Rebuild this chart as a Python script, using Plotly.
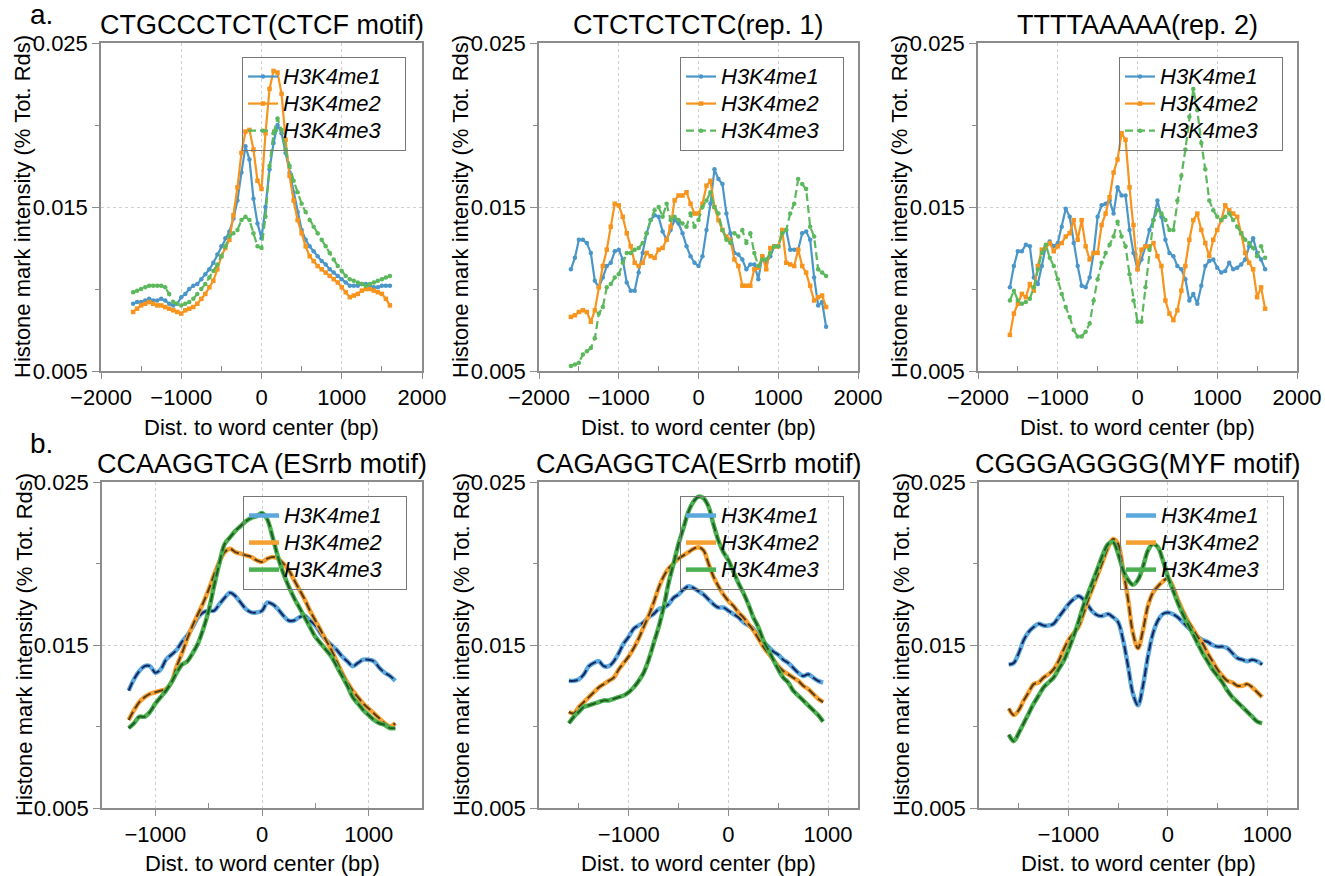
import plotly.graph_objects as go

# ---------------- data ----------------
X_TOP = list(range(-1600, 1601, 50))      # 65 points
X_B1 = list(range(-1250, 1251, 50))       # 51 points
X_B23 = list(range(-1600, 951, 50))       # 52 points

SERIES = ["H3K4me1", "H3K4me2", "H3K4me3"]

TITLES = ["CTGCCCTCT(CTCF motif)", "CTCTCTCTC(rep. 1)", "TTTTAAAAA(rep. 2)",
          "CCAAGGTCA (ESrrb motif)", "CAGAGGTCA(ESrrb motif)", "CGGGAGGGG(MYF motif)"]

# panel a.1  CTGCCCTCT
p1_me1 = [0.0091, 0.0092, 0.0092, 0.0093, 0.0094, 0.0093, 0.0093, 0.0094, 0.0093, 0.0091,
          0.0090, 0.0091, 0.0095, 0.0097, 0.0100, 0.0102, 0.0103, 0.0106, 0.0109, 0.0112,
          0.0116, 0.0121, 0.0126, 0.0131, 0.0135, 0.0143, 0.0154, 0.0171, 0.0187, 0.0179,
          0.0155, 0.0140, 0.0131, 0.0150, 0.0173, 0.0189, 0.0200, 0.0195, 0.0183, 0.0171,
          0.0159, 0.0147, 0.0136, 0.0130, 0.0126, 0.0123, 0.0120, 0.0117, 0.0115, 0.0112,
          0.0110, 0.0108, 0.0106, 0.0104, 0.0102, 0.0102, 0.0102, 0.0103, 0.0103, 0.0102,
          0.0101, 0.0101, 0.0102, 0.0102, 0.0102]
p1_me2 = [0.0086, 0.0088, 0.0090, 0.0091, 0.0092, 0.0091, 0.0090, 0.0090, 0.0089, 0.0088,
          0.0087, 0.0086, 0.0085, 0.0087, 0.0088, 0.0089, 0.0091, 0.0094, 0.0097, 0.0101,
          0.0105, 0.0112, 0.0120, 0.0125, 0.0130, 0.0145, 0.0162, 0.0183, 0.0196, 0.0197,
          0.0185, 0.0166, 0.0161, 0.0195, 0.0222, 0.0233, 0.0232, 0.0219, 0.0191, 0.0169,
          0.0154, 0.0142, 0.0134, 0.0126, 0.0120, 0.0117, 0.0114, 0.0112, 0.0110, 0.0108,
          0.0106, 0.0104, 0.0101, 0.0098, 0.0095, 0.0096, 0.0097, 0.0099, 0.0100, 0.0100,
          0.0099, 0.0098, 0.0097, 0.0094, 0.0090]
p1_me3 = [0.0098, 0.0099, 0.0100, 0.0101, 0.0102, 0.0102, 0.0102, 0.0102, 0.0101, 0.0097,
          0.0092, 0.0091, 0.0090, 0.0091, 0.0092, 0.0094, 0.0097, 0.0100, 0.0103, 0.0107,
          0.0111, 0.0115, 0.0120, 0.0126, 0.0132, 0.0134, 0.0136, 0.0142, 0.0144, 0.0142,
          0.0134, 0.0126, 0.0125, 0.0144, 0.0175, 0.0195, 0.0204, 0.0197, 0.0185, 0.0175,
          0.0166, 0.0159, 0.0152, 0.0147, 0.0142, 0.0138, 0.0134, 0.0130, 0.0126, 0.0122,
          0.0118, 0.0114, 0.0111, 0.0108, 0.0106, 0.0105, 0.0104, 0.0103, 0.0102, 0.0103,
          0.0104, 0.0105, 0.0106, 0.0107, 0.0108]

# panel a.2  CTCTCTCTC
p2_me1 = [0.0112, 0.0119, 0.0130, 0.0130, 0.0128, 0.0122, 0.0105, 0.0101, 0.0107, 0.0114,
          0.0116, 0.0123, 0.0124, 0.0118, 0.0104, 0.0099, 0.0099, 0.0110, 0.0122, 0.0134,
          0.0142, 0.0145, 0.0144, 0.0135, 0.0130, 0.0136, 0.0142, 0.0140, 0.0134, 0.0126,
          0.0120, 0.0116, 0.0114, 0.0120, 0.0136, 0.0152, 0.0173, 0.0167, 0.0164, 0.0146,
          0.0134, 0.0122, 0.0121, 0.0118, 0.0112, 0.0115, 0.0115, 0.0106, 0.0120, 0.0116,
          0.0120, 0.0126, 0.0126, 0.0134, 0.0136, 0.0124, 0.0124, 0.0124, 0.0134, 0.0135,
          0.0130, 0.0107, 0.0090, 0.0092, 0.0077]
p2_me2 = [0.0083, 0.0084, 0.0086, 0.0087, 0.0086, 0.0080, 0.0087, 0.0101, 0.0114, 0.0124,
          0.0138, 0.0152, 0.0151, 0.0144, 0.0134, 0.0126, 0.0116, 0.0114, 0.0116, 0.0122,
          0.0120, 0.0119, 0.0124, 0.0125, 0.0130, 0.0138, 0.0154, 0.0157, 0.0157, 0.0159,
          0.0152, 0.0146, 0.0146, 0.0152, 0.0163, 0.0166, 0.0150, 0.0142, 0.0136, 0.0132,
          0.0130, 0.0118, 0.0114, 0.0102, 0.0102, 0.0102, 0.0112, 0.0113, 0.0120, 0.0112,
          0.0125, 0.0126, 0.0126, 0.0136, 0.0116, 0.0115, 0.0114, 0.0124, 0.0114, 0.0110,
          0.0102, 0.0093, 0.0095, 0.0096, 0.0089]
p2_me3 = [0.0053, 0.0054, 0.0055, 0.0060, 0.0062, 0.0064, 0.0070, 0.0085, 0.0089, 0.0101,
          0.0103, 0.0107, 0.0109, 0.0116, 0.0122, 0.0122, 0.0124, 0.0125, 0.0128, 0.0134,
          0.0142, 0.0148, 0.0150, 0.0144, 0.0152, 0.0142, 0.0144, 0.0142, 0.0140, 0.0138,
          0.0146, 0.0138, 0.0142, 0.0150, 0.0154, 0.0159, 0.0150, 0.0146, 0.0136, 0.0130,
          0.0128, 0.0134, 0.0132, 0.0136, 0.0128, 0.0134, 0.0122, 0.0114, 0.0118, 0.0118,
          0.0122, 0.0126, 0.0126, 0.0134, 0.0136, 0.0146, 0.0152, 0.0167, 0.0164, 0.0161,
          0.0138, 0.0132, 0.0112, 0.0110, 0.0108]

# panel a.3  TTTTAAAAA
p3_me1 = [0.0101, 0.0114, 0.0123, 0.0123, 0.0127, 0.0126, 0.0107, 0.0103, 0.0114, 0.0126,
          0.0129, 0.0126, 0.0128, 0.0138, 0.0149, 0.0144, 0.0128, 0.0114, 0.0102, 0.0101,
          0.0107, 0.0122, 0.0144, 0.0151, 0.0152, 0.0154, 0.0146, 0.0162, 0.0157, 0.0157,
          0.0136, 0.0122, 0.0112, 0.0118, 0.0126, 0.0136, 0.0142, 0.0154, 0.0144, 0.0130,
          0.0122, 0.0120, 0.0114, 0.0112, 0.0106, 0.0093, 0.0097, 0.0091, 0.0102, 0.0114,
          0.0117, 0.0118, 0.0113, 0.0110, 0.0111, 0.0116, 0.0112, 0.0113, 0.0115, 0.0118,
          0.0126, 0.0131, 0.0122, 0.0118, 0.0112]
p3_me2 = [0.0072, 0.0085, 0.0091, 0.0097, 0.0095, 0.0103, 0.0099, 0.0114, 0.0124, 0.0125,
          0.0128, 0.0123, 0.0126, 0.0128, 0.0132, 0.0134, 0.0142, 0.0130, 0.0142, 0.0126,
          0.0118, 0.0122, 0.0122, 0.0139, 0.0146, 0.0156, 0.0171, 0.0179, 0.0195, 0.0191,
          0.0162, 0.0139, 0.0112, 0.0124, 0.0126, 0.0126, 0.0128, 0.0120, 0.0114, 0.0093,
          0.0085, 0.0081, 0.0087, 0.0099, 0.0114, 0.0130, 0.0142, 0.0146, 0.0136, 0.0128,
          0.0120, 0.0130, 0.0136, 0.0142, 0.0151, 0.0148, 0.0146, 0.0144, 0.0134, 0.0122,
          0.0116, 0.0112, 0.0095, 0.0101, 0.0088]
p3_me3 = [0.0093, 0.0099, 0.0093, 0.0091, 0.0092, 0.0094, 0.0101, 0.0112, 0.0122, 0.0127,
          0.0119, 0.0114, 0.0106, 0.0097, 0.0089, 0.0083, 0.0075, 0.0071, 0.0071, 0.0074,
          0.0079, 0.0093, 0.0106, 0.0116, 0.0122, 0.0127, 0.0132, 0.0141, 0.0132, 0.0126,
          0.0109, 0.0093, 0.0080, 0.0080, 0.0101, 0.0124, 0.0142, 0.0148, 0.0146, 0.0142,
          0.0136, 0.0136, 0.0154, 0.0169, 0.0185, 0.0205, 0.0222, 0.0209, 0.0189, 0.0173,
          0.0154, 0.0148, 0.0144, 0.0142, 0.0144, 0.0146, 0.0142, 0.0138, 0.0134, 0.0130,
          0.0128, 0.0125, 0.0120, 0.0126, 0.0119]

# panel b.1  CCAAGGTCA
p4_me1 = [0.0122, 0.0129, 0.0134, 0.0137, 0.0137, 0.0133, 0.0135, 0.0141, 0.0144, 0.0147,
          0.0152, 0.0156, 0.0161, 0.0167, 0.0170, 0.0171, 0.0171, 0.0175, 0.0179, 0.0182,
          0.0180, 0.0176, 0.0172, 0.0170, 0.0170, 0.0171, 0.0176, 0.0175, 0.0172, 0.0168,
          0.0165, 0.0165, 0.0167, 0.0168, 0.0165, 0.0162, 0.0157, 0.0153, 0.0150, 0.0147,
          0.0143, 0.0140, 0.0137, 0.0139, 0.0141, 0.0141, 0.0140, 0.0136, 0.0133, 0.0131,
          0.0128]
p4_me2 = [0.0104, 0.0110, 0.0115, 0.0118, 0.0120, 0.0121, 0.0122, 0.0123, 0.0127, 0.0137,
          0.0145, 0.0154, 0.0162, 0.0169, 0.0176, 0.0184, 0.0193, 0.0201, 0.0207, 0.0209,
          0.0207, 0.0206, 0.0205, 0.0204, 0.0202, 0.0201, 0.0203, 0.0204, 0.0203, 0.0200,
          0.0196, 0.0190, 0.0184, 0.0178, 0.0171, 0.0165, 0.0159, 0.0153, 0.0147, 0.0140,
          0.0133, 0.0127, 0.0122, 0.0118, 0.0114, 0.0111, 0.0108, 0.0105, 0.0102, 0.0100,
          0.0102]
p4_me3 = [0.0099, 0.0102, 0.0106, 0.0106, 0.0109, 0.0114, 0.0118, 0.0122, 0.0127, 0.0133,
          0.0138, 0.0140, 0.0145, 0.0151, 0.0160, 0.0171, 0.0186, 0.0200, 0.0212, 0.0216,
          0.0220, 0.0223, 0.0226, 0.0228, 0.0229, 0.0231, 0.0227, 0.0216, 0.0204, 0.0194,
          0.0186, 0.0179, 0.0173, 0.0167, 0.0161, 0.0155, 0.0151, 0.0147, 0.0143, 0.0137,
          0.0131, 0.0125, 0.0118, 0.0114, 0.0110, 0.0107, 0.0104, 0.0102, 0.0101, 0.0099,
          0.0099]

# panel b.2  CAGAGGTCA
p5_me1 = [0.0128, 0.0128, 0.0129, 0.0132, 0.0137, 0.0139, 0.0140, 0.0137, 0.0137, 0.0140,
          0.0145, 0.0151, 0.0155, 0.0160, 0.0162, 0.0164, 0.0167, 0.0169, 0.0172, 0.0173,
          0.0175, 0.0179, 0.0181, 0.0184, 0.0186, 0.0185, 0.0183, 0.0181, 0.0178, 0.0175,
          0.0173, 0.0173, 0.0171, 0.0169, 0.0167, 0.0164, 0.0162, 0.0160, 0.0155, 0.0152,
          0.0149, 0.0146, 0.0144, 0.0141, 0.0139, 0.0136, 0.0133, 0.0131, 0.0132, 0.0130,
          0.0128, 0.0127]
p5_me2 = [0.0109, 0.0108, 0.0112, 0.0115, 0.0118, 0.0121, 0.0124, 0.0126, 0.0128, 0.0130,
          0.0135, 0.0139, 0.0143, 0.0148, 0.0154, 0.0161, 0.0168, 0.0176, 0.0185, 0.0192,
          0.0197, 0.0200, 0.0203, 0.0205, 0.0207, 0.0209, 0.0210, 0.0208, 0.0200, 0.0192,
          0.0186, 0.0181, 0.0177, 0.0174, 0.0170, 0.0167, 0.0163, 0.0159, 0.0154, 0.0149,
          0.0145, 0.0141, 0.0137, 0.0134, 0.0132, 0.0130, 0.0128, 0.0125, 0.0123, 0.0120,
          0.0117, 0.0115]
p5_me3 = [0.0102, 0.0106, 0.0109, 0.0112, 0.0113, 0.0114, 0.0115, 0.0116, 0.0116, 0.0117,
          0.0118, 0.0119, 0.0121, 0.0124, 0.0128, 0.0133, 0.0141, 0.0151, 0.0161, 0.0173,
          0.0188, 0.0200, 0.0212, 0.0222, 0.0232, 0.0238, 0.0241, 0.0240, 0.0235, 0.0224,
          0.0214, 0.0207, 0.0202, 0.0195, 0.0188, 0.0182, 0.0175, 0.0167, 0.0161, 0.0153,
          0.0147, 0.0141, 0.0135, 0.0130, 0.0127, 0.0122, 0.0119, 0.0116, 0.0113, 0.0110,
          0.0107, 0.0103]

# panel b.3  CGGGAGGGG
p6_me1 = [0.0138, 0.0139, 0.0145, 0.0153, 0.0158, 0.0161, 0.0163, 0.0162, 0.0162, 0.0163,
          0.0167, 0.0171, 0.0175, 0.0178, 0.0180, 0.0178, 0.0174, 0.0170, 0.0168, 0.0168,
          0.0169, 0.0167, 0.0164, 0.0153, 0.0137, 0.0120, 0.0113, 0.0125, 0.0143, 0.0157,
          0.0165, 0.0169, 0.0170, 0.0169, 0.0167, 0.0164, 0.0161, 0.0158, 0.0155, 0.0153,
          0.0152, 0.0150, 0.0149, 0.0149, 0.0148, 0.0145, 0.0142, 0.0141, 0.0140, 0.0141,
          0.0140, 0.0138]
p6_me2 = [0.0111, 0.0107, 0.0110, 0.0116, 0.0121, 0.0126, 0.0127, 0.0130, 0.0132, 0.0135,
          0.0140, 0.0147, 0.0153, 0.0157, 0.0161, 0.0169, 0.0178, 0.0186, 0.0194, 0.0202,
          0.0210, 0.0215, 0.0212, 0.0196, 0.0178, 0.0157, 0.0148, 0.0159, 0.0174, 0.0182,
          0.0186, 0.0189, 0.0191, 0.0186, 0.0178, 0.0171, 0.0165, 0.0160, 0.0155, 0.0151,
          0.0145, 0.0140, 0.0135, 0.0131, 0.0128, 0.0127, 0.0125, 0.0125, 0.0126, 0.0124,
          0.0121, 0.0118]
p6_me3 = [0.0095, 0.0091, 0.0096, 0.0102, 0.0108, 0.0114, 0.0119, 0.0124, 0.0127, 0.0130,
          0.0135, 0.0140, 0.0147, 0.0155, 0.0164, 0.0174, 0.0182, 0.0190, 0.0198, 0.0206,
          0.0212, 0.0213, 0.0206, 0.0196, 0.0190, 0.0187, 0.0190, 0.0198, 0.0208, 0.0212,
          0.0210, 0.0202, 0.0192, 0.0184, 0.0176, 0.0169, 0.0163, 0.0157, 0.0151, 0.0145,
          0.0140, 0.0135, 0.0131, 0.0127, 0.0122, 0.0118, 0.0115, 0.0112, 0.0109, 0.0106,
          0.0103, 0.0102]

Y_TICKS = [0.005, 0.015, 0.025]
Y_TICKTEXT = ["0.005", "0.015", "0.025"]

# ---------------- styling ----------------
FONT = "Liberation Sans, Arial, Helvetica, sans-serif"
AX = "#8c8c8c"
GRID = "#cfcfcf"
TOP_COL = ["#4a96c8", "#f7941d", "#5cb85c"]
BOT_LIGHT = ["#5aa8dc", "#f5a030", "#4cb050"]
BOT_DARK = ["#15245c", "#5a3a12", "#1d5e22"]
TOP_SYM = ["circle", "square", "circle"]
TOP_DASH = ["solid", "solid", "8px,4px"]

W, H = 1325, 876
px = lambda v: v / W
py = lambda v: 1 - v / H


def legend_name(s):
    return '<span style="font-size:22px"><i>%s</i>&nbsp;&nbsp;&nbsp;</span>' % s


panels = [
    dict(x=X_TOP, ys=[p1_me1, p1_me2, p1_me3], xd=(101, 422), yd=(43, 371), xr=[-2000, 2000],
         xt=[-2000, -1000, 0, 1000, 2000], xm=[-1500, -500, 500, 1500], top=True),
    dict(x=X_TOP, ys=[p2_me1, p2_me2, p2_me3], xd=(539, 858), yd=(43, 371), xr=[-2000, 2000],
         xt=[-2000, -1000, 0, 1000, 2000], xm=[-1500, -500, 500, 1500], top=True),
    dict(x=X_TOP, ys=[p3_me1, p3_me2, p3_me3], xd=(978, 1297), yd=(43, 371), xr=[-2000, 2000],
         xt=[-2000, -1000, 0, 1000, 2000], xm=[-1500, -500, 500, 1500], top=True),
    dict(x=X_B1, ys=[p4_me1, p4_me2, p4_me3], xd=(102, 422), yd=(482, 808), xr=[-1500, 1500],
         xt=[-1000, 0, 1000], xm=[-500, 500], top=False),
    dict(x=X_B23, ys=[p5_me1, p5_me2, p5_me3], xd=(539, 858), yd=(482, 808), xr=[-1900, 1300],
         xt=[-1000, 0, 1000], xm=[-1500, -500, 500], top=False),
    dict(x=X_B23, ys=[p6_me1, p6_me2, p6_me3], xd=(979, 1297), yd=(482, 808), xr=[-1900, 1300],
         xt=[-1000, 0, 1000], xm=[-1500, -500, 500], top=False),
]

fig = go.Figure()
layout = dict(width=W, height=H, margin=dict(l=0, r=0, t=0, b=0, autoexpand=False),
              paper_bgcolor="white", plot_bgcolor="white",
              font=dict(family=FONT, color="black"), showlegend=True)
annotations = []

for k, p in enumerate(panels):
    n = "" if k == 0 else str(k + 1)
    xa, ya = "x" + n, "y" + n
    leg = "legend" + n
    for s in range(3):
        if p["top"]:
            fig.add_trace(go.Scatter(
                x=p["x"], y=p["ys"][s], xaxis=xa, yaxis=ya, legend=leg,
                name=legend_name(SERIES[s]), mode="lines+markers",
                line=dict(color=TOP_COL[s], width=2.2, dash=TOP_DASH[s]),
                marker=dict(symbol=TOP_SYM[s], size=4.5, color=TOP_COL[s])))
        else:
            fig.add_trace(go.Scatter(
                x=p["x"], y=p["ys"][s], xaxis=xa, yaxis=ya, legend=leg,
                name=legend_name(SERIES[s]), mode="lines", line_shape="spline",
                line=dict(color=BOT_LIGHT[s], width=4.5)))
            fig.add_trace(go.Scatter(
                x=p["x"], y=p["ys"][s], xaxis=xa, yaxis=ya, showlegend=False,
                mode="lines", line_shape="spline", hoverinfo="skip",
                line=dict(color=BOT_DARK[s], width=2, dash="9px,4px")))

    layout["xaxis" + n] = dict(
        domain=[px(p["xd"][0]), px(p["xd"][1])], range=p["xr"], anchor=ya, automargin=False,
        showline=True, mirror=True, linecolor=AX, linewidth=1.5,
        ticks="outside", ticklen=6, tickcolor=AX, tickwidth=1.2,
        tickvals=p["xt"], showgrid=True, gridcolor=GRID, griddash="dot", gridwidth=1,
        zeroline=False, tickfont=dict(size=22, family=FONT, color="black"),
        minor=dict(tickvals=p["xm"], ticks="inside", ticklen=5, tickcolor=AX, showgrid=False))
    layout["yaxis" + n] = dict(
        domain=[py(p["yd"][1]), py(p["yd"][0])], range=[0.005, 0.025], anchor=xa,
        automargin=False,
        showline=True, mirror=True, linecolor=AX, linewidth=1.5,
        ticks="outside", ticklen=7, tickcolor=AX, tickwidth=1.2,
        tickvals=Y_TICKS, ticktext=Y_TICKTEXT, showgrid=True, gridcolor=GRID,
        griddash="dot", gridwidth=1, zeroline=False,
        tickfont=dict(size=22, family=FONT, color="black"),
        minor=dict(tickvals=[0.01, 0.02], ticks="outside", ticklen=4, tickcolor=AX, showgrid=False))
    layout[leg] = dict(
        x=px(p["xd"][0] + 141), y=py(p["yd"][0] + 14), xanchor="left", yanchor="top",
        bgcolor="rgba(0,0,0,0)", bordercolor="#777777", borderwidth=1,
        font=dict(size=18.5, family=FONT, color="black"), tracegroupgap=0, itemwidth=30)

    cx = (p["xd"][0] + p["xd"][1]) / 2
    cy = (p["yd"][0] + p["yd"][1]) / 2
    ty = 25 if p["top"] else 464
    annotations.append(dict(text=TITLES[k], x=px(cx), y=py(ty), xref="paper", yref="paper",
                            xanchor="center", yanchor="middle", showarrow=False,
                            font=dict(size=27, family=FONT, color="black")))
    xt_y = 427 if p["top"] else 863
    annotations.append(dict(text="Dist. to word center (bp)", x=px(cx), y=py(xt_y),
                            xref="paper", yref="paper", xanchor="center", yanchor="middle",
                            showarrow=False, font=dict(size=22, family=FONT, color="black")))
    annotations.append(dict(text="Histone mark intensity (% Tot. Rds)", x=px(p["xd"][0] - 78),
                            y=py(cy), xref="paper", yref="paper", xanchor="center",
                            yanchor="middle", textangle=-90, showarrow=False,
                            font=dict(size=22, family=FONT, color="black")))

annotations.append(dict(text="a.", x=px(42), y=py(15), xref="paper", yref="paper",
                        xanchor="center", yanchor="middle", showarrow=False,
                        font=dict(size=28, family=FONT, color="black")))
annotations.append(dict(text="b.", x=px(42), y=py(443), xref="paper", yref="paper",
                        xanchor="center", yanchor="middle", showarrow=False,
                        font=dict(size=28, family=FONT, color="black")))
layout["annotations"] = annotations

fig.update_layout(**layout)
fig.write_html("out.html", config={"displayModeBar": False},
               post_script="document.body.style.margin='0';document.body.style.overflow='hidden';")
